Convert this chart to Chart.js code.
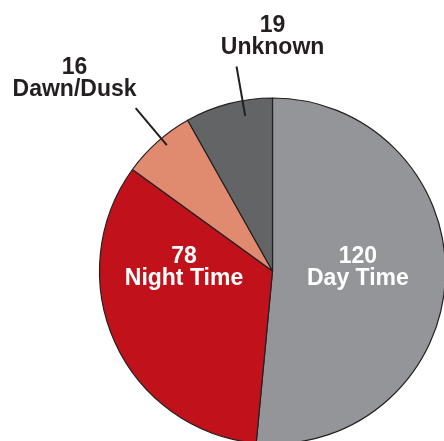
<!DOCTYPE html>
<html>
<head>
<meta charset="utf-8">
<script src="https://cdn.jsdelivr.net/npm/chart.js@4"></script>
<style>
  html, body { margin: 0; padding: 0; background: #ffffff; overflow: hidden; }
  #wrap { position: absolute; left: 0; top: 0; width: 545px; height: 542px; }
</style>
</head>
<body>
<div id="wrap"><canvas id="chart" width="545" height="542"></canvas></div>
<script>
// data
const categories = ['Day Time', 'Night Time', 'Dawn/Dusk', 'Unknown'];
const counts = [120, 78, 16, 19];
const sliceColors = ['#939598', '#c1121c', '#e08a70', '#636466'];

// where each label sits: angle shift from the slice middle (deg) and distance as part of radius
const labelPlacement = [
    { shift: -1, dist: 0.494, color: '#ffffff', line: null },
    { shift: 22.4, dist: 0.512, color: '#ffffff', line: null },
    { shift: -5, dist: 1.572, color: '#231f20', line: { shift: 1.7, from: 0.95, to: 1.23 } },
    { shift: 14.7, dist: 1.318, color: '#231f20', line: { shift: 4.7, from: 0.91, to: 1.2 } }
];

let polar = function (arc, angle, dist) {
    return {
        x: arc.x + Math.cos(angle) * arc.outerRadius * dist,
        y: arc.y + Math.sin(angle) * arc.outerRadius * dist
    };
}

const sliceLabels = {
    id: 'sliceLabels',
    afterDraw(chart) {
        const ctx = chart.ctx;
        const arcs = chart.getDatasetMeta(0).data;
        ctx.save();
        ctx.font = 'bold 23px "Liberation Sans", Arial, sans-serif';
        ctx.textAlign = 'center';
        ctx.textBaseline = 'alphabetic';
        arcs.forEach((arc, i) => {
            const p = labelPlacement[i];
            const mid = (arc.startAngle + arc.endAngle) / 2;
            if (p.line) {
                const a = mid + p.line.shift * Math.PI / 180;
                const s = polar(arc, a, p.line.from);
                const e = polar(arc, a, p.line.to);
                ctx.strokeStyle = '#231f20';
                ctx.lineWidth = 2;
                ctx.beginPath();
                ctx.moveTo(s.x, s.y);
                ctx.lineTo(e.x, e.y);
                ctx.stroke();
            }
            const pos = polar(arc, mid + p.shift * Math.PI / 180, p.dist);
            ctx.fillStyle = p.color;
            ctx.fillText(String(counts[i]), pos.x, pos.y - 11);
            ctx.fillText(categories[i], pos.x, pos.y + 11);
        });
        ctx.restore();
    }
};

new Chart(document.getElementById('chart'), {
    type: 'pie',
    data: {
        labels: categories,
        datasets: [{
            data: counts,
            backgroundColor: sliceColors,
            borderColor: '#231f20',
            borderWidth: 1.2
        }]
    },
    options: {
        responsive: false,
        animation: false,
        radius: 173,
        layout: { padding: 0 },
        plugins: {
            legend: { display: false },
            tooltip: { enabled: false }
        }
    },
    plugins: [sliceLabels]
});
</script>
</body>
</html>
